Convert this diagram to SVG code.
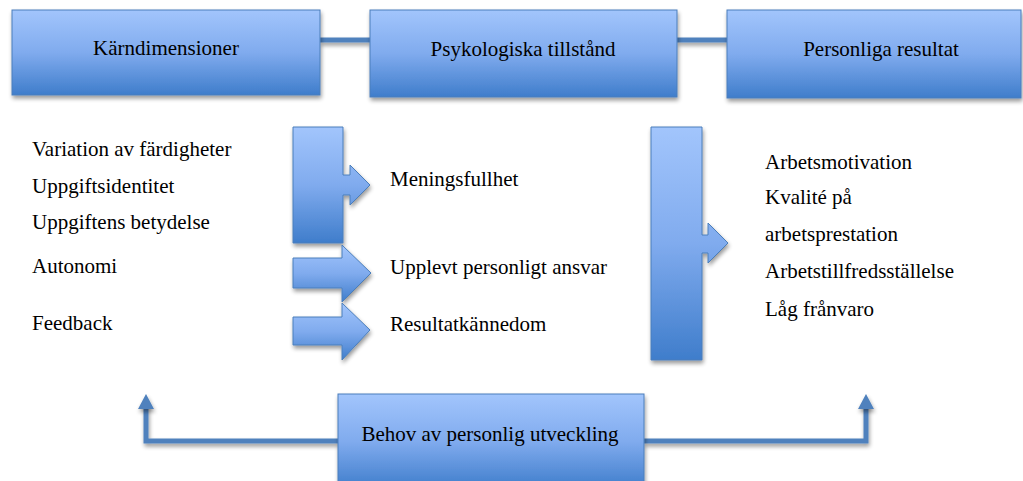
<svg xmlns="http://www.w3.org/2000/svg" width="1023" height="481" viewBox="0 0 1023 481">
<defs>
<linearGradient id="g" x1="0" y1="0" x2="0" y2="1">
<stop offset="0" stop-color="#a2c5fc"/>
<stop offset="0.5" stop-color="#80abee"/>
<stop offset="1" stop-color="#3f7dcb"/>
</linearGradient>
<filter id="sh" filterUnits="userSpaceOnUse" x="0" y="0" width="1023" height="481">
<feGaussianBlur in="SourceAlpha" stdDeviation="2"/>
<feOffset dx="1" dy="3" result="b"/>
<feComponentTransfer><feFuncA type="linear" slope="0.4"/></feComponentTransfer>
<feMerge><feMergeNode/><feMergeNode in="SourceGraphic"/></feMerge>
</filter>
</defs>
<style>
.box{fill:url(#g);stroke:#4a7ebb;stroke-width:1;filter:url(#sh)}
.ln{fill:none;stroke:#4f81bd;stroke-width:5;filter:url(#sh)}
.ah{fill:#4f81bd;filter:url(#sh)}
.c{text-anchor:middle}
</style>
<rect width="1023" height="481" fill="#fff"/>
<g id="connectors">
<path class="ln" d="M320,40 H370"/>
<path class="ln" d="M677,40 H727"/>
<polyline class="ln" points="338,441 146,441 146,405"/>
<polygon class="ah" points="138,409 146,394 154,409"/>
<polyline class="ln" points="644,441 866,441 866,405"/>
<polygon class="ah" points="858,409 866,394 874,409"/>
</g>
<g font-size="21" fill="#000" font-family="'Liberation Serif', 'Times New Roman', serif">
<g id="n1"><rect class="box" x="12" y="10" width="308" height="85"/><text class="c" x="166" y="55">Kärndimensioner</text></g>
<g id="n2"><rect class="box" x="370" y="10" width="307" height="87"/><text class="c" x="523" y="56">Psykologiska tillstånd</text></g>
<g id="n3"><rect class="box" x="727" y="10" width="294" height="88"/><text class="c" x="881" y="56">Personliga resultat</text></g>
<g id="n4"><rect class="box" x="338" y="394" width="306" height="95"/><text class="c" x="490" y="441">Behov av personlig utveckling</text></g>
<g id="bracket1"><path class="box" d="M293,127 H343 V175 H350 V165 L370,185 L350,205 V195 H343 V243 H293 Z"/></g>
<g id="arrow2"><path class="box" d="M293,258 H342 V245 L371,273 L342,302 V288 H293 Z"/></g>
<g id="arrow3"><path class="box" d="M293,317 H342 V303 L370,330 L342,360 V345 H293 Z"/></g>
<g id="bracket2"><path class="box" d="M651,127 H702 V235 H708 V223 L728,243 L708,263 V253 H702 V360 H651 Z"/></g>
<g id="left-list">
<text x="32" y="156">Variation av färdigheter</text>
<text x="32" y="193">Uppgiftsidentitet</text>
<text x="32" y="229">Uppgiftens betydelse</text>
<text x="32" y="273">Autonomi</text>
<text x="32" y="330">Feedback</text>
</g>
<g id="mid-list">
<text x="390" y="186">Meningsfullhet</text>
<text x="390" y="274">Upplevt personligt ansvar</text>
<text x="390" y="331">Resultatkännedom</text>
</g>
<g id="right-list">
<text x="765" y="169">Arbetsmotivation</text>
<text x="765" y="204">Kvalité på</text>
<text x="765" y="241">arbetsprestation</text>
<text x="765" y="278">Arbetstillfredsställelse</text>
<text x="765" y="316">Låg frånvaro</text>
</g>
</g>
</svg>
